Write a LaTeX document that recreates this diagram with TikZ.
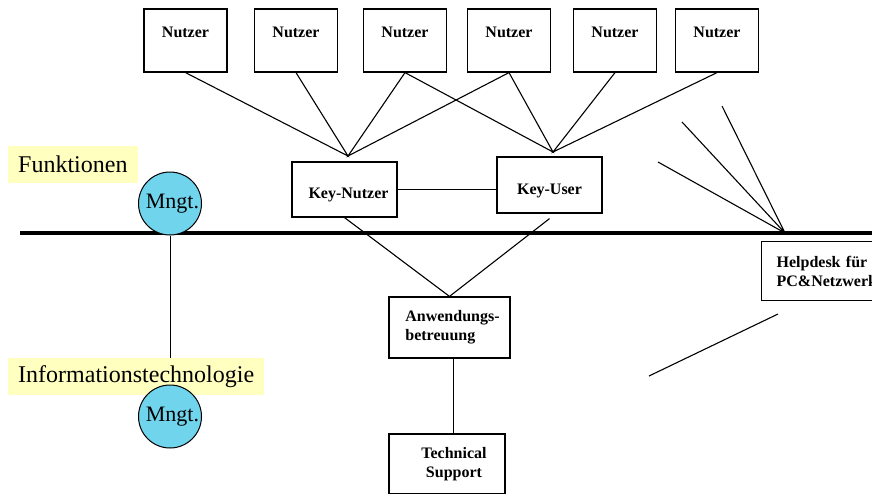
\documentclass[tikz,border=0pt]{standalone}
\usepackage{fontspec}
\setmainfont{Liberation Serif}
\usetikzlibrary{backgrounds}
\definecolor{labelyellow}{RGB}{255,255,192}
\definecolor{mngtblue}{RGB}{112,212,236}

\begin{document}
\begin{tikzpicture}[x=1pt,y=-1pt,
  box/.style={draw,line width=1.2pt,inner sep=0pt,font=\fontsize{16}{19}\selectfont\bfseries},
  nutzer/.style={box,minimum width=83pt,minimum height=63pt,text height=10pt,text depth=17pt},
  link/.style={line width=1.1pt},
  mngt/.style={circle,draw,line width=1pt,fill=mngtblue,minimum size=63pt,inner sep=0pt,font=\fontsize{22}{26}\selectfont},
  area/.style={fill=labelyellow,anchor=west,inner xsep=10pt,minimum height=37pt,font=\fontsize{24}{28}\selectfont}]
\useasboundingbox (0,0) rectangle (872,493);

% Nutzer
\path (185.5,40.5) node(n1) [nutzer]{Nutzer};
\path (296,40.5) node(n2) [nutzer]{Nutzer};
\path (405,40.5) node(n3) [nutzer]{Nutzer};
\path (509,40.5) node(n4) [nutzer]{Nutzer};
\path (615,40.5) node(n5) [nutzer]{Nutzer};
\path (717,40.5) node(n6) [nutzer]{Nutzer};

\path (344.5,189.5) node(kn) [box,minimum width=105pt,minimum height=55pt,text height=20pt,text depth=3pt]{\hspace*{8pt}Key-Nutzer};
\path (549.5,185) node(ku) [box,minimum width=105pt,minimum height=56pt,text height=21pt,text depth=3pt]{Key-User};
\path (449.5,327.5) node(ab) [box,minimum width=121pt,minimum height=61pt,align=left]{\hspace*{6pt}Anwendungs-\\\hspace*{6pt}betreuung};
\path (447,464) node(ts) [box,minimum width=116pt,minimum height=60pt,align=center]{\hspace*{14pt}Technical\\\hspace*{14pt}Support};
\path (761,241) node(hd) [box,anchor=north west,minimum height=59pt,text width=150pt,inner xsep=15pt,align=left]{Helpdesk für\\PC\&Netzwerk};

\coordinate (jn) at (348,156);
\coordinate (ju) at (553,152);
\draw[link] (n1.south) -- (jn) -- (n2.south) (n3.south) -- (jn) -- (n4.south);
\draw[link] (n3.south) -- (ju) -- (n4.south) (n5.south) -- (ju) -- (n6.south);
\draw[link] (kn.east) -- (kn.east -| ku.west);
\draw[link] (kn.south) -- (ab.north) -- ([yshift=-5pt]ku.south);
\draw[link] ([xshift=4pt]ab.south) -- ([xshift=4pt]ab.south |- ts.north);

% Trennlinie
\coordinate (fl) at (20,233);
\coordinate (fr) at (872,233);
\draw[line width=4pt] (fl) -- (fr);

% Helpdesk
\coordinate (hub) at (785,233);
\coordinate (h1) at (658,162);
\coordinate (h2) at (682,122);
\coordinate (h3) at (722,106);
\draw[link] (h1) -- (hub) -- (h2) (h3) -- (hub);
\coordinate (h4) at (778,314);
\coordinate (h5) at (649,376);
\draw[link] (h4) -- (h5);

\path (8,164.5) node(fk) [area]{Funktionen};
\path (8,376.5) node(it) [area]{Informationstechnologie};
\path (170,203.5) node(m1) [mngt]{\hspace*{5pt}Mngt.};
\path (170,416.5) node(m2) [mngt]{\hspace*{5pt}Mngt.};
\begin{scope}[on background layer]
\draw[line width=1pt] (m1) -- (m2);
\end{scope}
\end{tikzpicture}
\end{document}
